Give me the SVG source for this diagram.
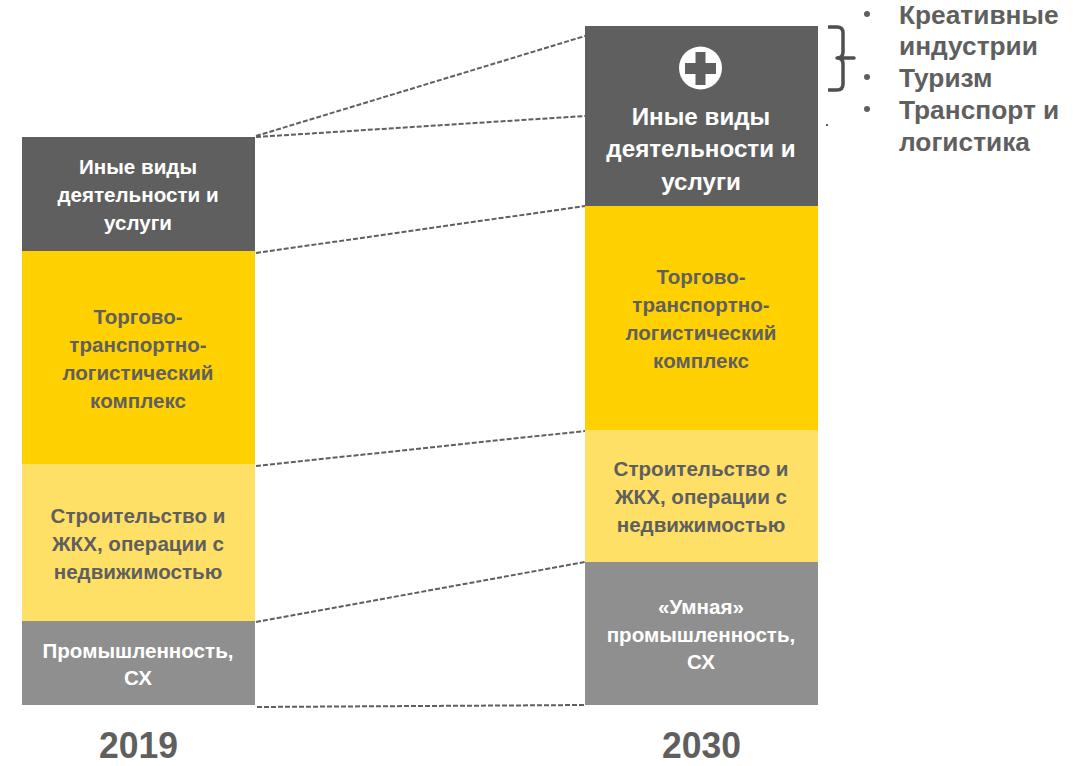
<svg xmlns="http://www.w3.org/2000/svg" width="1089" height="766" viewBox="0 0 1089 766">
<style>
text{font-family:"Liberation Sans",Arial,sans-serif;font-weight:bold;text-anchor:middle}
.l{font-size:20.6px}
.b{font-size:24.2px}
.g{fill:#5f5f5f}
.w{fill:#fff}
.c{fill:none;stroke:#5f5f5f;stroke-width:2;stroke-dasharray:5 2}
.s{font-size:26.3px;fill:#5f5f5f;text-anchor:start}
.y{font-size:37px;fill:#5f5f5f}
</style>
<rect width="1089" height="766" fill="#fff"/>
<g id="connectors">
<line class="c" x1="256" y1="136" x2="585" y2="36"/>
<line class="c" x1="256" y1="137" x2="585" y2="116"/>
<line class="c" x1="256" y1="253" x2="585" y2="206"/>
<line class="c" x1="256" y1="466" x2="585" y2="431"/>
<line class="c" x1="256" y1="622" x2="585" y2="562"/>
<line class="c" x1="257" y1="707" x2="585" y2="705"/>
</g>
<g id="n2019-other">
<rect x="22" y="137" width="233" height="114" fill="#5f5f5f"/>
<text class="l w" x="138" y="174">Иные виды</text>
<text class="l w" x="138" y="202">деятельности и</text>
<text class="l w" x="138" y="230">услуги</text>
</g>
<g id="n2019-trade">
<rect x="22" y="251" width="233" height="213" fill="#ffd100"/>
<text class="l g" x="138" y="324">Торгово-</text>
<text class="l g" x="138" y="352">транспортно-</text>
<text class="l g" x="138" y="380">логистический</text>
<text class="l g" x="138" y="408">комплекс</text>
</g>
<g id="n2019-build">
<rect x="22" y="464" width="233" height="157" fill="#ffe066"/>
<text class="l g" x="138" y="523">Строительство и</text>
<text class="l g" x="138" y="551">ЖКХ, операции с</text>
<text class="l g" x="138" y="579">недвижимостью</text>
</g>
<g id="n2019-industry">
<rect x="22" y="621" width="233" height="84" fill="#8f8f8f"/>
<text class="l w" x="138" y="658">Промышленность,</text>
<text class="l w" x="138" y="685">СХ</text>
</g>
<g id="n2030-other">
<rect x="585" y="26" width="233" height="180" fill="#5f5f5f"/>
<circle cx="700.500" cy="68" r="21.500" fill="#fff"/>
<path d="M695.500 52h10v11h10.500v11h-10.500v11h-10v-11h-10.500v-11h10.500z" fill="#5f5f5f"/>
<text class="b w" x="701" y="125">Иные виды</text>
<text class="b w" x="701" y="157">деятельности и</text>
<text class="b w" x="701" y="190">услуги</text>
</g>
<g id="n2030-trade">
<rect x="585" y="206" width="233" height="224" fill="#ffd100"/>
<text class="l g" x="701" y="284">Торгово-</text>
<text class="l g" x="701" y="312">транспортно-</text>
<text class="l g" x="701" y="340">логистический</text>
<text class="l g" x="701" y="368">комплекс</text>
</g>
<g id="n2030-build">
<rect x="585" y="430" width="233" height="132" fill="#ffe066"/>
<text class="l g" x="701" y="476">Строительство и</text>
<text class="l g" x="701" y="504">ЖКХ, операции с</text>
<text class="l g" x="701" y="532">недвижимостью</text>
</g>
<g id="n2030-industry">
<rect x="585" y="562" width="233" height="143" fill="#8f8f8f"/>
<text class="l w" x="701" y="614">«Умная»</text>
<text class="l w" x="701" y="642">промышленность,</text>
<text class="l w" x="701" y="669">СХ</text>
</g>
<g id="year-2019"><text class="y" x="138.500" y="758" textLength="79" lengthAdjust="spacingAndGlyphs">2019</text></g>
<g id="year-2030"><text class="y" x="701.500" y="758" textLength="79" lengthAdjust="spacingAndGlyphs">2030</text></g>
<g id="brace">
<path d="M828 27h9q6 0 6 6v19q0 6 -6 6h17h-17q6 0 6 6v20q0 6-6 6h-9" fill="none" stroke="#4f4f4f" stroke-width="3.500" stroke-linejoin="round"/>
<rect x="826" y="124" width="2" height="2" fill="#5f5f5f"/>
</g>
<g id="list">
<circle cx="867" cy="14" r="3" fill="#5f5f5f"/>
<circle cx="867" cy="77" r="3" fill="#5f5f5f"/>
<circle cx="867" cy="109" r="3" fill="#5f5f5f"/>
<text class="s" x="899" y="24">Креативные</text>
<text class="s" x="899" y="55">индустрии</text>
<text class="s" x="899" y="87">Туризм</text>
<text class="s" x="899" y="119">Транспорт и</text>
<text class="s" x="899" y="151">логистика</text>
</g>
</svg>
